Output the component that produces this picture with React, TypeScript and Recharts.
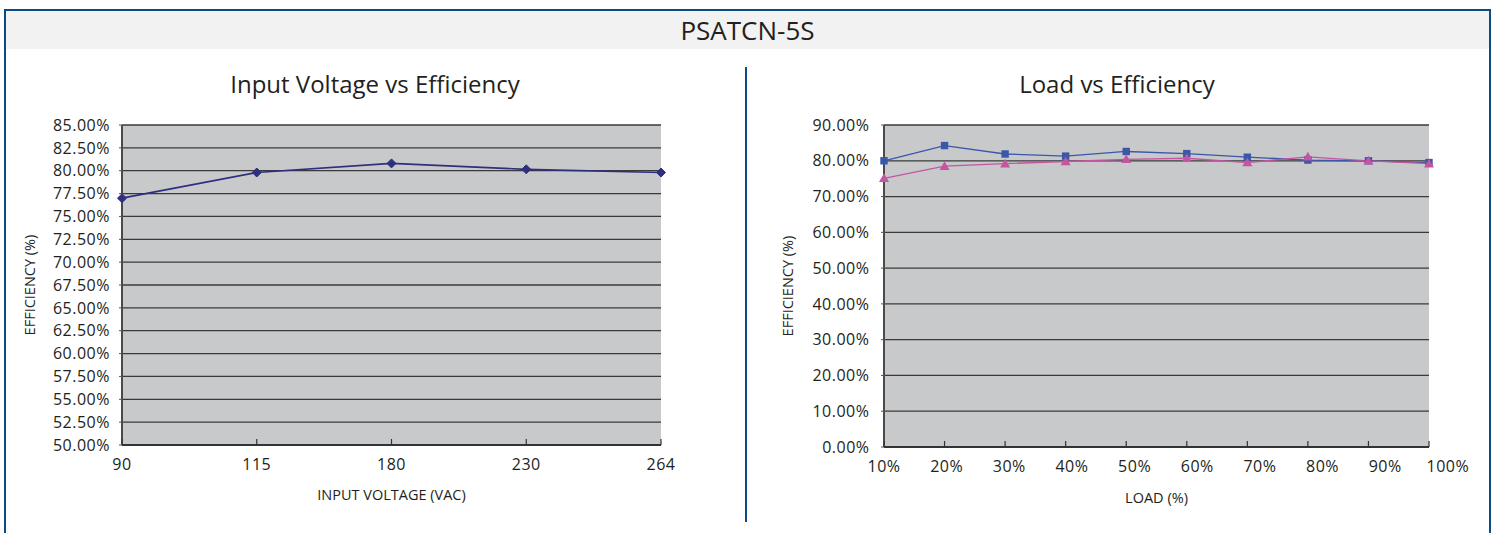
import React from 'react';
import { LineChart, Line, XAxis, YAxis, CartesianGrid } from 'recharts';

const HEADER_TITLE = 'PSATCN-5S';
const LEFT_TITLE = 'Input Voltage vs Efficiency';
const RIGHT_TITLE = 'Load vs Efficiency';

const voltageCategories = ['90', '115', '180', '230', '264'];
const voltageEfficiency = [77.0, 79.8, 80.8, 80.15, 79.8];
const voltageTicks = [50, 52.5, 55, 57.5, 60, 62.5, 65, 67.5, 70, 72.5, 75, 77.5, 80, 82.5, 85];

const loadCategories = ['10%', '20%', '30%', '40%', '50%', '60%', '70%', '80%', '90%', '100%'];
const loadEfficiencyA = [80.0, 84.25, 81.9, 81.3, 82.6, 82.0, 81.0, 80.2, 80.0, 79.5];
const loadEfficiencyB = [75.1, 78.5, 79.2, 79.8, 80.4, 80.7, 79.5, 81.1, 80.0, 79.2];
const loadTicks = [0, 10, 20, 30, 40, 50, 60, 70, 80, 90];

const voltageData = voltageCategories.map((c, i) => ({ v: c, eff: voltageEfficiency[i] }));
const loadData = loadCategories.map((c, i) => ({ load: c, a: loadEfficiencyA[i], b: loadEfficiencyB[i] }));

const FONT = '"Open Sans", sans-serif';
const TEXT = '#231f20';
const FRAME = '#0d4a85';
const PLOT_BG = '#c8c9cb';
const GRID = '#3a3a3a';

const fmt = (v: number) => `${v.toFixed(2)}%`;

const makeXTick = (margin: number, step: number) => (props: any) => {
  const { x, y, payload, index } = props;
  const axisY = y - margin;
  return (
    <g>
      <line x1={x} x2={x} y1={axisY} y2={axisY - 6} stroke="#333" strokeWidth={1.2} />
      <text
        x={x + index * step}
        y={y}
        dy="0.71em"
        textAnchor="middle"
        fontSize={16}
        fill={TEXT}
        fontFamily={FONT}
        letterSpacing={0.5}
      >
        {payload.value}
      </text>
    </g>
  );
};

const makeYTitle = (offset: number, text: string) => (props: any) => {
  const { viewBox } = props;
  const cx = viewBox.x + offset;
  const cy = viewBox.y + viewBox.height / 2;
  return (
    <text
      x={cx}
      y={cy}
      transform={`rotate(-90 ${cx} ${cy})`}
      textAnchor="middle"
      dominantBaseline="central"
      fontSize={14.5}
      fill={TEXT}
      fontFamily={FONT}
    >
      {text}
    </text>
  );
};

const diamond = (color: string) => (props: any) => {
  const { cx, cy, index } = props;
  const r = 4.5;
  return (
    <path
      key={`d-${index}`}
      d={`M${cx},${cy - r}L${cx + r},${cy}L${cx},${cy + r}L${cx - r},${cy}Z`}
      fill={color}
      stroke={color}
    />
  );
};

const square = (color: string) => (props: any) => {
  const { cx, cy, index } = props;
  const r = 3.7;
  return <rect key={`s-${index}`} x={cx - r} y={cy - r} width={2 * r} height={2 * r} fill={color} />;
};

const triangle = (color: string) => (props: any) => {
  const { cx, cy, index } = props;
  const r = 5;
  return (
    <path
      key={`t-${index}`}
      d={`M${cx},${cy - r}L${cx + r},${cy + r * 0.75}L${cx - r},${cy + r * 0.75}Z`}
      fill={color}
    />
  );
};

const yTickStyle = { fontSize: 16, fill: TEXT, fontFamily: FONT, letterSpacing: 0.5 } as any;

export default function App() {
  return (
    <div style={{ position: 'absolute', left: 0, top: 0, width: 1499, height: 533, background: '#fff', overflow: 'hidden', fontFamily: FONT }}>
      {/* outer frame */}
      <div
        style={{
          position: 'absolute',
          left: 4,
          top: 9,
          width: 1487,
          height: 540,
          borderTop: `2px solid ${FRAME}`,
          borderLeft: `2px solid ${FRAME}`,
          borderRight: `2px solid ${FRAME}`,
          boxSizing: 'border-box',
        }}
      />
      {/* header band */}
      <div
        style={{
          position: 'absolute',
          left: 6,
          top: 11,
          width: 1483,
          height: 38,
          background: '#f2f2f2',
          color: TEXT,
          fontSize: 26,
          lineHeight: '38px',
          textAlign: 'center',
        }}
      >
        {HEADER_TITLE}
      </div>
      {/* divider */}
      <div style={{ position: 'absolute', left: 745, top: 67, width: 2, height: 455, background: FRAME }} />

      {/* chart titles */}
      <div style={{ position: 'absolute', left: 125, top: 68, width: 500, textAlign: 'center', fontSize: 24, lineHeight: '32px', color: TEXT }}>
        {LEFT_TITLE}
      </div>
      <div style={{ position: 'absolute', left: 867, top: 68, width: 500, textAlign: 'center', fontSize: 24, lineHeight: '32px', color: TEXT }}>
        {RIGHT_TITLE}
      </div>

      {/* left chart */}
      <div style={{ position: 'absolute', left: 0, top: 0 }}>
        <LineChart width={745} height={533} data={voltageData} margin={{ top: 125, right: 84, bottom: 28, left: 0 }}>
          <CartesianGrid vertical={false} stroke={GRID} strokeWidth={1.3} fill={PLOT_BG} fillOpacity={1} />
          <XAxis
            dataKey="v"
            type="category"
            height={60}
            tickSize={0}
            tickMargin={14}
            axisLine={{ stroke: '#333', strokeWidth: 2 }}
            tickLine={false}
            tick={makeXTick(14, 0)}
            interval={0}
            label={{ value: 'INPUT VOLTAGE (VAC)', position: 'insideBottom', offset: 5, fontSize: 14.5, fill: TEXT, fontFamily: FONT }}
          />
          <XAxis xAxisId="top" dataKey="v" orientation="top" height={0} tick={false} tickLine={false} axisLine={{ stroke: '#9a9a9a', strokeWidth: 2 }} />
          <YAxis
            type="number"
            domain={[50, 85]}
            ticks={voltageTicks}
            interval={0}
            width={122}
            tickSize={3}
            tickMargin={9}
            tickFormatter={fmt}
            tick={yTickStyle}
            tickLine={{ stroke: '#555' }}
            axisLine={{ stroke: '#4a4a4a', strokeWidth: 2 }}
            label={{ content: makeYTitle(29, 'EFFICIENCY (%)') }}
          />
          <YAxis yAxisId="right" orientation="right" width={0} domain={[50, 85]} tick={false} tickLine={false} axisLine={{ stroke: '#9a9a9a', strokeWidth: 2 }} />
          <Line
            dataKey="eff"
            stroke="#2e2f7e"
            strokeWidth={1.6}
            dot={diamond('#2e2f7e')}
            isAnimationActive={false}
          />
        </LineChart>
      </div>

      {/* right chart */}
      <div style={{ position: 'absolute', left: 745, top: 0 }}>
        <LineChart width={754} height={533} data={loadData} margin={{ top: 125, right: 70, bottom: 26, left: 0 }}>
          <CartesianGrid vertical={false} stroke={GRID} strokeWidth={1.3} fill={PLOT_BG} fillOpacity={1} />
          <XAxis
            dataKey="load"
            type="category"
            height={60}
            tickSize={0}
            tickMargin={14}
            axisLine={{ stroke: '#333', strokeWidth: 2 }}
            tickLine={false}
            tick={makeXTick(14, 2.1)}
            interval={0}
            label={{ value: 'LOAD (%)', position: 'insideBottom', offset: 4, fontSize: 14.5, fill: TEXT, fontFamily: FONT }}
          />
          <XAxis xAxisId="top" dataKey="load" orientation="top" height={0} tick={false} tickLine={false} axisLine={{ stroke: '#9a9a9a', strokeWidth: 2 }} />
          <YAxis
            type="number"
            domain={[0, 90]}
            ticks={loadTicks}
            interval={0}
            width={139}
            tickSize={3}
            tickMargin={11.5}
            tickFormatter={fmt}
            tick={yTickStyle}
            tickLine={{ stroke: '#555' }}
            axisLine={{ stroke: '#4a4a4a', strokeWidth: 2 }}
            label={{ content: makeYTitle(42, 'EFFICIENCY (%)') }}
          />
          <YAxis yAxisId="right" orientation="right" width={0} domain={[0, 90]} tick={false} tickLine={false} axisLine={{ stroke: '#9a9a9a', strokeWidth: 2 }} />
          <Line dataKey="a" stroke="#3a57a8" strokeWidth={1.3} dot={square('#3a57a8')} isAnimationActive={false} />
          <Line dataKey="b" stroke="#c455a3" strokeWidth={1.3} dot={triangle('#c455a3')} isAnimationActive={false} />
        </LineChart>
      </div>
    </div>
  );
}
